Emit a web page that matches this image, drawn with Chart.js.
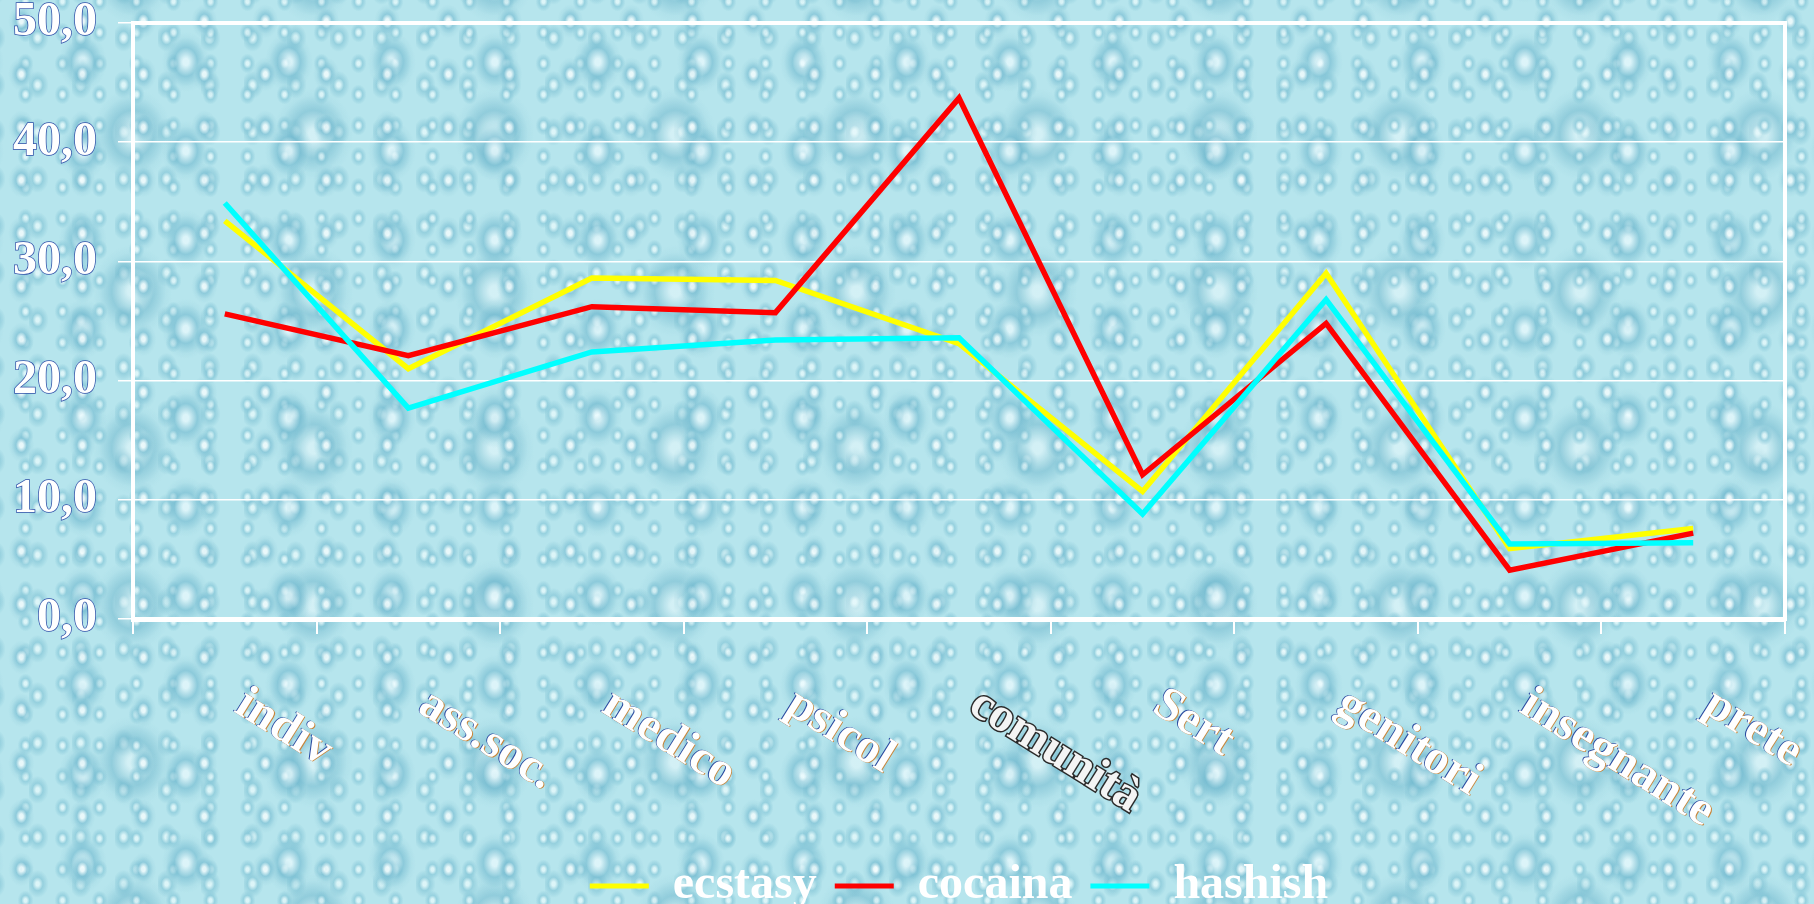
<!DOCTYPE html>
<html>
<head>
<meta charset="utf-8">
<title>ecstasy / cocaina / hashish</title>
<script src="https://cdn.jsdelivr.net/npm/chart.js@4.4.1/dist/chart.umd.min.js"></script>
<style>
  html, body {
    margin: 0;
    padding: 0;
    overflow: hidden;
  }
  body {
    width: 1814px;
    height: 904px;
    background-color: #b6e5ed;
    /* water drop texture */
    background-image:
      radial-gradient(ellipse 13px 17px at 35% 40%, rgba(250,255,255,0.75) 0 14%, rgba(125,192,212,0.7) 42%, rgba(160,214,226,0.4) 75%, transparent 100%),
      radial-gradient(ellipse 24px 30px at 60% 55%, rgba(240,252,255,0.65) 0 12%, rgba(112,184,206,0.6) 48%, rgba(160,214,226,0.3) 82%, transparent 100%),
      radial-gradient(ellipse 8px 10px at 50% 50%, rgba(245,255,255,0.6) 0 18%, rgba(130,196,214,0.6) 52%, transparent 100%),
      radial-gradient(ellipse 40px 46px at 40% 60%, rgba(235,250,252,0.55) 0 12%, rgba(108,180,202,0.5) 52%, rgba(160,214,226,0.25) 84%, transparent 100%),
      radial-gradient(ellipse 11px 14px at 20% 70%, rgba(245,255,255,0.6) 0 15%, rgba(128,194,212,0.6) 48%, transparent 100%);
    background-size: 61px 53px, 103px 89px, 37px 31px, 181px 157px, 43px 47px;
    background-position: 0 0, 21px 13px, 7px 17px, 60px 40px, 29px 5px;
  }
  .chart-wrap {
    position: relative;
    width: 1814px;
    height: 904px;
  }
</style>
</head>
<body>
<div class="chart-wrap">
  <canvas id="drugs-chart"></canvas>
</div>
<script>
// Chart data
const categories = ['indiv', 'ass.soc.', 'medico', 'psicol', 'comunità', 'Sert', 'genitori', 'insegnante', 'prete'];
const ecstasy = [33.4, 21.0, 28.6, 28.4, 23.1, 10.7, 29.0, 5.9, 7.6];
const cocaina = [25.6, 22.1, 26.2, 25.7, 43.7, 12.1, 24.8, 4.1, 7.2];
const hashish = [34.9, 17.7, 22.4, 23.4, 23.6, 8.8, 26.8, 6.3, 6.4];
const yTickLabels = ['0,0', '10,0', '20,0', '30,0', '40,0', '50,0'];

const FONT = '"Liberation Serif", "Times New Roman", serif';
const FONT_SIZE = 48;

// white border round the plot area
const plotBorder = {
  id: 'plotBorder',
  beforeDatasetsDraw(chart) {
    const { ctx, chartArea } = chart;
    ctx.save();
    ctx.strokeStyle = '#ffffff';
    ctx.lineWidth = 4;
    ctx.strokeRect(chartArea.left, chartArea.top, chartArea.right - chartArea.left, chartArea.bottom - chartArea.top);
    ctx.restore();
  }
};

// slanted category labels (clockwise), embossed white text
const slantedLabels = {
  id: 'slantedLabels',
  afterDraw(chart) {
    const { ctx } = chart;
    const xScale = chart.scales.x;
    ctx.save();
    ctx.font = 'bold ' + FONT_SIZE + 'px ' + FONT;
    ctx.textAlign = 'left';
    ctx.textBaseline = 'alphabetic';
    categories.forEach((label, i) => {
      const x = xScale.getPixelForValue(i) + 8;
      const y = xScale.top + 92;
      ctx.save();
      ctx.translate(x, y);
      ctx.rotate(32 * Math.PI / 180);
      if (label === 'comunità') {
        ctx.lineWidth = 3;
        ctx.strokeStyle = '#2b2b2b';
        ctx.strokeText(label, 0, 0);
        ctx.fillStyle = '#f4f4f4';
        ctx.fillText(label, 0, 0);
      } else {
        ctx.fillStyle = '#2a4aa0';
        ctx.fillText(label, -1, 0);
        ctx.fillStyle = '#c98438';
        ctx.fillText(label, 1, 0);
        ctx.fillStyle = '#ffffff';
        ctx.fillText(label, 0, 0);
      }
      ctx.restore();
    });
    ctx.restore();
  }
};

function initChart() {
  const canvas = document.getElementById('drugs-chart');
  if (!canvas) return;

  new Chart(canvas, {
    type: 'line',
    data: {
      labels: categories,
      datasets: [
        {
          label: 'ecstasy',
          data: ecstasy,
          borderColor: '#ffff00',
          backgroundColor: '#ffff00',
          order: 3
        },
        {
          label: 'cocaina',
          data: cocaina,
          borderColor: '#ff0000',
          backgroundColor: '#ff0000',
          order: 2
        },
        {
          label: 'hashish',
          data: hashish,
          borderColor: '#00ffff',
          backgroundColor: '#00ffff',
          order: 1
        }
      ]
    },
    options: {
      responsive: true,
      maintainAspectRatio: false,
      animation: false,
      elements: {
        line: { borderWidth: 5.5, tension: 0 },
        point: { radius: 0, hoverRadius: 0 }
      },
      layout: {
        padding: { left: 0, right: 29, top: 0, bottom: -16 }
      },
      plugins: {
        tooltip: { enabled: false },
        legend: {
          position: 'bottom',
          fullSize: false,
          labels: {
            color: '#ffffff',
            font: { family: FONT, size: FONT_SIZE, weight: 'bold' },
            boxWidth: 59,
            boxHeight: 5,
            padding: 18,
            sort: (a, b) => a.datasetIndex - b.datasetIndex,
            generateLabels(chart) {
              const items = Chart.defaults.plugins.legend.labels.generateLabels(chart);
              items.forEach(item => {
                item.lineWidth = 0;
                item.fillStyle = item.strokeStyle;
              });
              return items;
            }
          }
        }
      },
      scales: {
        x: {
          offset: true,
          grid: {
            offset: true,
            drawOnChartArea: false,
            color: '#ffffff',
            lineWidth: 2,
            tickLength: 15
          },
          border: { color: '#ffffff', width: 5 },
          ticks: { display: false },
          afterFit(scale) {
            scale.height = 225;
          }
        },
        y: {
          min: 0,
          max: 50,
          grid: {
            color: '#ffffff',
            lineWidth: 1.5,
            tickLength: 15
          },
          border: { color: '#ffffff', width: 4 },
          ticks: {
            stepSize: 10,
            padding: 21,
            color: '#ffffff',
            textStrokeColor: '#3050a8',
            textStrokeWidth: 1.5,
            font: { family: FONT, size: FONT_SIZE, weight: 'bold', lineHeight: 1 },
            callback: (value, index) => yTickLabels[index]
          },
          afterFit(scale) {
            scale.width = 133;
            scale.paddingTop = 23;
          }
        }
      }
    },
    plugins: [plotBorder, slantedLabels]
  });
}

document.addEventListener('DOMContentLoaded', () => {
  initChart();
});
</script>
</body>
</html>
